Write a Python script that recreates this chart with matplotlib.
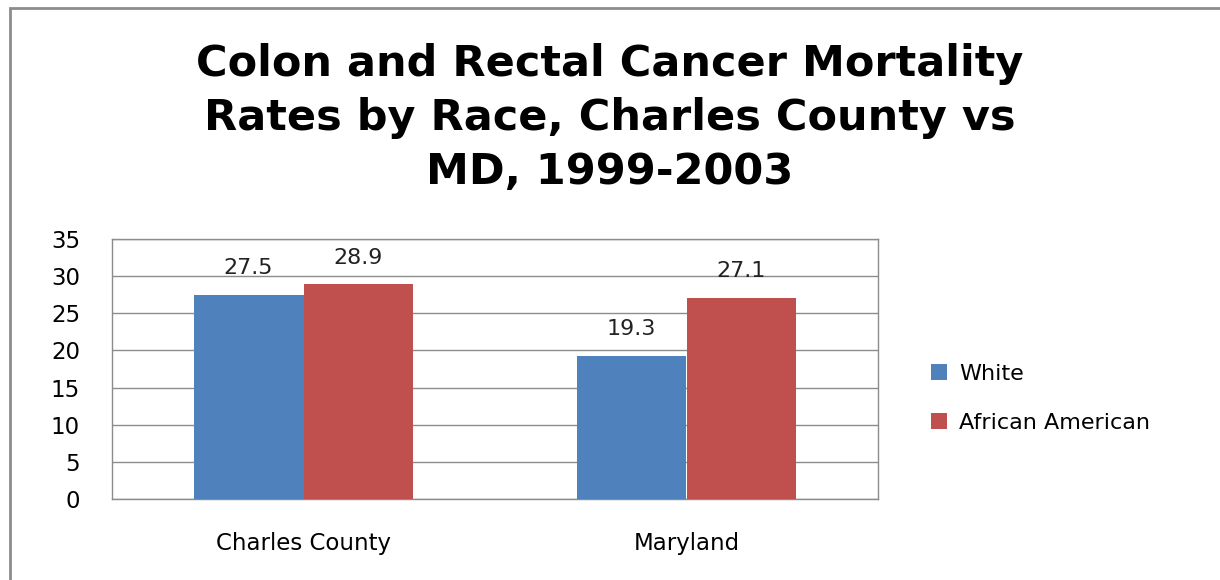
import numpy as np
import matplotlib.pyplot as plt
from matplotlib.patches import Rectangle

plt.rcParams['font.family'] = ['DejaVu Sans']

categories = ['Charles County', 'Maryland']
white = [27.5, 19.3]
african_american = [28.9, 27.1]
series_names = ['White', 'African American']
colors = ['#4F81BD', '#C0504D']

fig = plt.figure(figsize=(12.2, 5.8), dpi=100)
ax = fig.add_axes([112/1220, 1-499/580, 766/1220, 260/580])

x = np.arange(len(categories))
w = 0.287
b1 = ax.bar(x - w/2, white, w, color=colors[0], label=series_names[0], zorder=3)
b2 = ax.bar(x + w/2, african_american, w, color=colors[1], label=series_names[1], zorder=3)

for bars in (b1, b2):
    for r in bars:
        ax.text(r.get_x() + r.get_width()/2, r.get_height() + 2.2, f'{r.get_height():.1f}',
                ha='center', va='bottom', fontsize=16, color='#222222')

ax.set_xlim(-0.5, 1.5)
ax.set_ylim(0, 35)
ax.set_yticks(range(0, 36, 5))
ax.set_xticks(x)
ax.set_xticklabels(categories, fontsize=16.5)
ax.tick_params(axis='y', labelsize=16.5, length=0, pad=23)
ax.tick_params(axis='x', length=0, pad=24)
ax.grid(axis='y', color='#8c8c8c', linewidth=1, zorder=0)
for s in ax.spines.values():
    s.set_color('#8c8c8c')
    s.set_linewidth(1)

fig.legend(handles=[b1, b2], loc='upper left', bbox_to_anchor=(911/1220, 1-344/580),
           frameon=False, fontsize=16, handlelength=0.7, handleheight=0.7,
           labelspacing=1.3, handletextpad=0.55)

fig.text(0.5, 1-118/580, 'Colon and Rectal Cancer Mortality\nRates by Race, Charles County vs\nMD, 1999-2003',
         ha='center', va='center', fontsize=31, fontweight='bold', linespacing=1.36)

fig.patches.append(Rectangle((10/1220, -0.1), 1.2, 1-8/580+0.1, transform=fig.transFigure,
                             fill=False, edgecolor='#8c8c8c', linewidth=2))

fig.savefig('out.png', dpi=100)
